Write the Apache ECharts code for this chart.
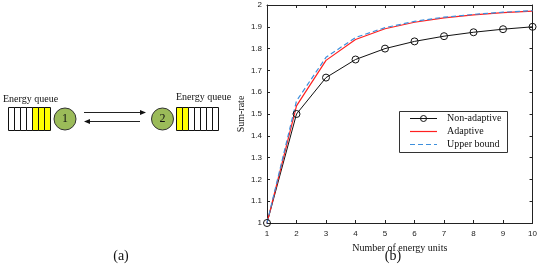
<!DOCTYPE html>
<html><head><meta charset="utf-8">
<script src="https://cdn.jsdelivr.net/npm/echarts@6/dist/echarts.min.js"></script>
<style>html,body{margin:0;padding:0;background:#fff}#c{width:540px;height:268px}</style>
</head><body><div id="c"></div>
<script>
const energyUnits = [1,2,3,4,5,6,7,8,9,10];
const nonAdaptive = [1.0, 1.5, 1.667, 1.75, 1.8, 1.833, 1.857, 1.875, 1.889, 1.9];
const adaptive    = [1.0, 1.537, 1.746, 1.842, 1.891, 1.921, 1.941, 1.955, 1.965, 1.972];
const upperBound  = [1.0, 1.56, 1.76, 1.851, 1.896, 1.925, 1.944, 1.957, 1.967, 1.974];
const seriesNames = ['Non-adaptive','Adaptive','Upper bound'];
const queue1 = [0,0,0,0,1,1,1];
const queue2 = [1,1,0,0,0,0,0];

const serif = 'Liberation Serif';
const sans = 'Liberation Sans';
const BLACK = '#111', RED = '#ff2020', BLUE = '#3d8fdc';
const pair = a => energyUnits.map((x,i)=>[x,a[i]]);

const graphics = [];
function queue(x0, y0, pattern){
  const w = 6, h = 23;
  pattern.forEach((p,i)=>{
    graphics.push({type:'rect', shape:{x:x0+i*w, y:y0, width:w, height:h},
      style:{fill:p?'#ffff00':'#ffffff', stroke:'#111', lineWidth:1}});
  });
}
queue(8.5, 107.5, queue1);
queue(176.5, 107.5, queue2);
[[65,119,'1'],[162.5,119,'2']].forEach(([cx,cy,t])=>{
  graphics.push({type:'circle', shape:{cx:cx, cy:cy, r:11}, style:{fill:'#9bbb59', stroke:'#333', lineWidth:1}});
  graphics.push({type:'text', x:cx, y:cy, style:{text:t, font:'12px '+serif, fill:'#111', align:'center', verticalAlign:'middle'}});
});
graphics.push({type:'text', x:3, y:99, style:{text:'Energy queue', font:'10px '+serif, fill:'#111', verticalAlign:'middle'}});
graphics.push({type:'text', x:176, y:97, style:{text:'Energy queue', font:'10px '+serif, fill:'#111', verticalAlign:'middle'}});
// arrows
graphics.push({type:'line', shape:{x1:84, y1:112.5, x2:142, y2:112.5}, style:{stroke:'#222', lineWidth:1}});
graphics.push({type:'polygon', shape:{points:[[146,112.5],[140,110],[140,115]]}, style:{fill:'#111'}});
graphics.push({type:'line', shape:{x1:88, y1:121.5, x2:140, y2:121.5}, style:{stroke:'#222', lineWidth:1}});
graphics.push({type:'polygon', shape:{points:[[84,121.5],[90,119],[90,124]]}, style:{fill:'#111'}});
graphics.push({type:'text', x:121, y:256, style:{text:'(a)', font:'14px '+serif, fill:'#111', align:'center', verticalAlign:'middle'}});
graphics.push({type:'text', x:393, y:256, style:{text:'(b)', font:'14px '+serif, fill:'#111', align:'center', verticalAlign:'middle'}});
// legend box and sample lines
graphics.push({type:'rect', z:5, shape:{x:399.5, y:111.5, width:108, height:41}, style:{fill:'#fff', stroke:'#333', lineWidth:1}});
graphics.push({type:'line', z:6, shape:{x1:410, y1:118.5, x2:437, y2:118.5}, style:{stroke:BLACK, lineWidth:1}});
graphics.push({type:'circle', z:6, shape:{cx:423.5, cy:118.5, r:3}, style:{fill:'none', stroke:BLACK, lineWidth:1}});
graphics.push({type:'line', z:6, shape:{x1:410, y1:131.5, x2:437, y2:131.5}, style:{stroke:RED, lineWidth:1.2}});
graphics.push({type:'line', z:6, shape:{x1:410, y1:144.5, x2:437, y2:144.5}, style:{stroke:BLUE, lineWidth:1.2, lineDash:[5,3]}});

const axisLine = {show:true, lineStyle:{color:'#222', width:1}};
const tick = {show:true, inside:true, length:3, lineStyle:{color:'#222'}};

const chart = echarts.init(document.getElementById('c'), null, {renderer:'canvas'});
chart.setOption({
  animation:false,
  graphic: graphics,
  grid:{left:267, right:6, top:5, bottom:45},
  legend:{
    orient:'vertical', left:410, top:113, padding:0, itemGap:3, itemWidth:27, itemHeight:10,
    data:seriesNames.map(n=>({name:n, icon:'rect', itemStyle:{color:'rgba(0,0,0,0)', borderWidth:0}})), z:10,
    textStyle:{fontFamily:serif, fontSize:10, color:'#111', padding:[0,0,0,5]}
  },
  xAxis:[{
    type:'value', min:1, max:10, interval:1, position:'bottom',
    axisLine, axisTick:tick, splitLine:{show:false},
    axisLabel:{fontFamily:sans, fontSize:8, color:'#222', margin:7},
    name:'Number of energy units', nameLocation:'middle', nameGap:17,
    nameTextStyle:{fontFamily:serif, fontSize:10, color:'#111'}
  },{
    type:'value', min:1, max:10, interval:1, position:'top',
    axisLine, axisTick:tick, axisLabel:{show:false}, splitLine:{show:false}
  }],
  yAxis:[{
    type:'value', min:1, max:2, interval:0.1, position:'left',
    axisLine, axisTick:tick, splitLine:{show:false},
    axisLabel:{fontFamily:sans, fontSize:8, color:'#222', margin:5, formatter:v=>String(+v.toFixed(1))},
    name:'Sum-rate', nameLocation:'middle', nameGap:21,
    nameTextStyle:{fontFamily:serif, fontSize:10, color:'#111'}
  },{
    type:'value', min:1, max:2, interval:0.1, position:'right',
    axisLine, axisTick:tick, axisLabel:{show:false}, splitLine:{show:false}
  }],
  series:[
    {name:seriesNames[0], type:'line', data:pair(nonAdaptive),
     symbol:'circle', symbolSize:7, lineStyle:{width:1, color:BLACK},
     itemStyle:{color:'rgba(255,255,255,0)', borderColor:BLACK, borderWidth:1}},
    {name:seriesNames[1], type:'line', data:pair(adaptive),
     symbol:'none', lineStyle:{width:1.2, color:RED}},
    {name:seriesNames[2], type:'line', data:pair(upperBound),
     symbol:'none', lineStyle:{width:1.2, color:BLUE, type:[5,3]}}
  ]
});
</script></body></html>
